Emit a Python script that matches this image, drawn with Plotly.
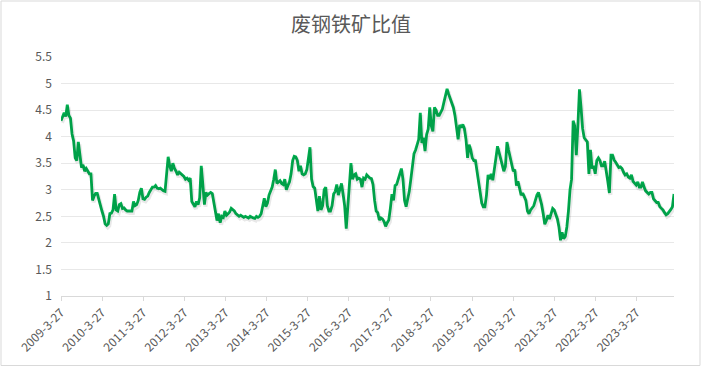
import pandas as pd
import plotly.graph_objects as go

title_text = "废钢铁矿比值"
start_date = "2009-03-27"

v2009 = [4.30, 4.40, 4.45, 4.38, 4.60, 4.40, 4.35, 4.05, 3.92, 3.60, 3.55, 3.90, 3.60, 3.42, 3.47, 3.35, 3.40, 3.35, 3.30, 3.30, 2.80, 2.88, 2.93, 2.93, 2.80, 2.70]
v2010 = [2.60, 2.50, 2.36, 2.33, 2.36, 2.55, 2.56, 2.62, 2.92, 2.62, 2.60, 2.72, 2.74, 2.65, 2.66, 2.62, 2.60, 2.60, 2.60, 2.60, 2.78, 2.70, 2.72, 2.80, 2.95, 3.03]
v2011 = [2.83, 2.82, 2.86, 2.88, 2.95, 3.00, 3.05, 3.05, 3.08, 3.03, 3.02, 3.03, 3.00, 2.98, 2.97, 3.25, 3.62, 3.45, 3.35, 3.50, 3.40, 3.35, 3.28, 3.33, 3.30, 3.27]
v2012 = [3.25, 3.20, 3.22, 3.18, 3.22, 2.78, 2.72, 2.68, 2.78, 2.72, 2.85, 3.45, 3.10, 2.72, 2.95, 2.90, 2.93, 2.95, 2.93, 2.75, 2.55, 2.42, 2.55, 2.38, 2.50, 2.48]
v2013 = [2.60, 2.52, 2.55, 2.58, 2.65, 2.62, 2.60, 2.55, 2.52, 2.50, 2.52, 2.50, 2.48, 2.50, 2.48, 2.47, 2.50, 2.48, 2.47, 2.46, 2.50, 2.48, 2.50, 2.55, 2.70, 2.84]
v2014 = [2.68, 2.75, 2.90, 2.97, 3.05, 3.20, 3.38, 3.12, 3.15, 3.17, 3.12, 3.10, 3.20, 3.00, 3.08, 3.15, 3.30, 3.55, 3.63, 3.62, 3.55, 3.35, 3.45, 3.30, 3.28, 3.30]
v2015 = [3.38, 3.55, 3.80, 3.20, 3.06, 3.03, 2.85, 2.60, 2.88, 2.62, 2.70, 3.00, 3.05, 2.70, 2.60, 2.60, 2.70, 2.92, 2.97, 3.10, 2.90, 3.03, 3.12, 2.92, 2.70, 2.27]
v2016 = [2.65, 2.95, 3.50, 3.20, 3.28, 3.30, 3.20, 3.22, 3.20, 3.05, 3.22, 3.20, 3.28, 3.25, 3.22, 3.21, 3.10, 2.80, 2.60, 2.57, 2.43, 2.47, 2.45, 2.40, 2.31, 2.38]
v2017 = [2.43, 2.65, 2.92, 2.80, 3.08, 3.10, 3.20, 3.30, 3.40, 3.20, 2.80, 2.68, 2.82, 2.97, 3.20, 3.45, 3.68, 3.75, 3.88, 3.95, 4.45, 3.88, 3.98, 3.73, 4.04, 4.14]
v2018 = [4.55, 4.20, 4.10, 4.55, 4.50, 4.40, 4.40, 4.45, 4.52, 4.65, 4.78, 4.90, 4.80, 4.72, 4.65, 4.55, 4.40, 4.17, 3.95, 4.22, 4.17, 4.23, 4.15, 3.95, 3.60, 3.85]
v2019 = [3.75, 3.60, 3.55, 3.55, 3.35, 3.18, 2.97, 2.75, 2.68, 2.68, 2.90, 3.28, 3.20, 3.30, 3.18, 3.35, 3.60, 3.82, 3.69, 3.55, 3.47, 3.35, 3.44, 3.90, 3.75, 3.60]
v2020 = [3.52, 3.35, 3.38, 3.08, 3.16, 3.00, 2.90, 2.94, 2.88, 2.80, 2.60, 2.55, 2.62, 2.65, 2.70, 2.80, 2.90, 2.95, 2.85, 2.72, 2.55, 2.35, 2.42, 2.52, 2.45, 2.57]
v2021 = [2.65, 2.62, 2.55, 2.45, 2.30, 2.05, 2.20, 2.08, 2.12, 2.30, 2.60, 3.00, 3.20, 4.30, 4.20, 3.65, 4.20, 4.89, 4.55, 4.15, 3.98, 3.95, 3.90, 3.30, 3.75, 3.40]
v2022 = [3.45, 3.30, 3.55, 3.60, 3.55, 3.45, 3.45, 3.54, 3.30, 3.16, 2.94, 3.65, 3.65, 3.56, 3.52, 3.46, 3.42, 3.43, 3.40, 3.33, 3.28, 3.30, 3.24, 3.22, 3.28, 3.16]
v2023 = [3.12, 3.09, 3.15, 3.05, 3.05, 3.15, 3.05, 2.98, 2.95, 2.92, 2.95, 2.95, 2.83, 2.80, 2.76, 2.76, 2.68, 2.65, 2.62, 2.57, 2.53, 2.55, 2.58, 2.63, 2.68, 2.92]

tick_vals = ["2009-03-27", "2010-03-27", "2011-03-27", "2012-03-27", "2013-03-27",
             "2014-03-27", "2015-03-27", "2016-03-27", "2017-03-27", "2018-03-27",
             "2019-03-27", "2020-03-27", "2021-03-27", "2022-03-27", "2023-03-27"]
tick_text = ["2009-3-27", "2010-3-27", "2011-3-27", "2012-3-27", "2013-3-27",
             "2014-3-27", "2015-3-27", "2016-3-27", "2017-3-27", "2018-3-27",
             "2019-3-27", "2020-3-27", "2021-3-27", "2022-3-27", "2023-3-27"]
y_ticks = [1, 1.5, 2, 2.5, 3, 3.5, 4, 4.5, 5, 5.5]

values = (v2009 + v2010 + v2011 + v2012 + v2013 + v2014 + v2015 + v2016 +
          v2017 + v2018 + v2019 + v2020 + v2021 + v2022 + v2023)
dates = pd.date_range(start=start_date, periods=len(values), freq="14D")

W, H = 702, 367
ML, MR, MT, MB = 61, 28, 57, 71
pw, ph = W - ML - MR, H - MT - MB
font_fam = "Noto Sans CJK SC, Noto Sans, sans-serif"
grey = "#595959"

x0, x1 = dates[0], dates[-1]
day_per_px = (x1 - x0) / pw
y_per_px = 4.5 / ph

fig = go.Figure()
# soft shadow under the line (drawn on offset overlay axes)
fig.add_trace(go.Scatter(x=dates, y=values, mode="lines", xaxis="x2", yaxis="y2",
                         line=dict(color="rgba(0,0,0,0.09)", width=4),
                         hoverinfo="skip", showlegend=False))
fig.add_trace(go.Scatter(x=dates, y=values, mode="lines",
                         line=dict(color="#00B050", width=2.8),
                         showlegend=False))

fig.update_layout(
    width=W, height=H,
    margin=dict(l=ML, r=MR, t=MT, b=MB, pad=0, autoexpand=False),
    paper_bgcolor="white", plot_bgcolor="white",
    font=dict(family=font_fam, color=grey, size=12),
    title=dict(text=title_text, x=0.5, xanchor="center", xref="container",
               y=1 - 25 / H, yref="container", yanchor="middle",
               font=dict(size=20, color=grey, family=font_fam)),
    xaxis=dict(type="date", range=[x0, x1], tickvals=tick_vals, ticktext=tick_text,
               tickangle=-45, showgrid=False, showline=True, linecolor="#d9d9d9",
               linewidth=1, ticks="outside", ticklen=4, tickcolor="#d9d9d9",
               tickfont=dict(size=12, color=grey), zeroline=False, automargin=False),
    yaxis=dict(range=[1, 5.5], tickvals=y_ticks, showgrid=True, gridcolor="#e8e8e8",
               gridwidth=1, zeroline=False, showline=False, ticks="",
               ticklabelstandoff=8, tickfont=dict(size=12, color=grey), automargin=False),
    xaxis2=dict(type="date", overlaying="x", visible=False,
                range=[x0 - day_per_px * 1, x1 - day_per_px * 1]),
    yaxis2=dict(overlaying="y", visible=False,
                range=[1 + y_per_px * 2, 5.5 + y_per_px * 2]),
    shapes=[dict(type="rect", xref="paper", yref="paper",
                 x0=(-ML + 1) / pw, x1=1 + (MR - 2) / pw,
                 y0=-(MB - 1.5) / ph, y1=1 + (MT - 1) / ph,
                 line=dict(color="#d9d9d9", width=1), layer="below")],
)

fig.write_html("out.html", config={"displayModeBar": False},
               post_script="document.body.style.margin='0px';document.body.style.overflow='hidden';")
